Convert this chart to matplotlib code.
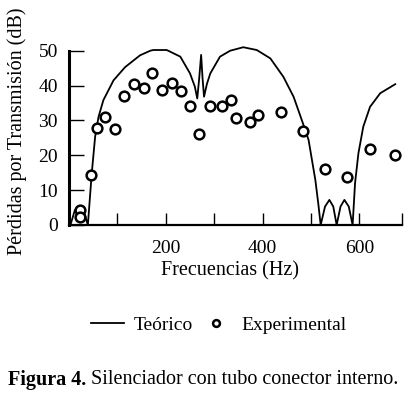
import matplotlib
matplotlib.use("Agg")
import matplotlib.pyplot as plt
from matplotlib.legend_handler import HandlerLine2D

plt.rcParams['font.family'] = ['Liberation Serif', 'DejaVu Serif']

# curva teórica
teo_f = [3, 12, 21, 30, 39, 47, 54, 61, 71, 92, 116, 147, 168, 174, 202, 230,
         250, 260, 265, 269, 273, 276, 279, 285, 292, 312, 333, 360, 388, 416,
         443, 464, 481, 495, 509, 515, 520, 529, 538, 546, 553, 561, 569, 578,
         586, 591, 598, 608, 622, 643, 674]
teo_tl = [0, 4.2, 5.5, 4.2, 0, 14.8, 25.3, 31.0, 35.8, 41.5, 45.3, 48.7, 50.0,
          50.2, 50.2, 48.3, 43.5, 39.7, 36.3, 42, 48.8, 42, 36.8, 40.5, 43.5,
          48.3, 50.0, 51.0, 50.2, 47.8, 42.5, 36.8, 30.1, 24.4, 12.9, 6.2, 0,
          5.3, 7.2, 5.3, 0, 5.3, 7.2, 5.3, 0, 12.0, 20.6, 28.2, 33.9, 37.8, 40.4]

# puntos experimentales
exp_f = [22, 22, 46, 58, 74, 96, 113, 134, 155, 172, 192, 212, 232, 251, 269,
         291, 317, 334, 346, 375, 391, 438, 484, 529, 574, 621, 674]
exp_tl = [4.3, 2.4, 14.3, 27.9, 31.0, 27.4, 37.0, 40.4, 39.2, 43.5, 38.7, 40.6,
          38.4, 34.2, 26.0, 34.1, 34.1, 35.8, 30.6, 29.6, 31.7, 32.5, 27.0,
          16.2, 13.8, 21.7, 20.0]

xticks = [100, 200, 300, 400, 500, 600, 688]
xlabels = ['', '200', '', '400', '', '600', '']
yticks = [0, 10, 20, 30, 40, 50]


class MarkerRight(HandlerLine2D):
    # pone el marcador pegado al texto en la leyenda
    def get_xdata(self, legend, xdescent, ydescent, width, height, fontsize):
        xd, xm = super().get_xdata(legend, xdescent, ydescent, width, height, fontsize)
        return xd, [-xdescent + 0.95 * width]


fig = plt.figure(figsize=(4.07, 3.95), dpi=100)
ax = fig.add_axes([0.1695, 0.4304, 0.8182, 0.4412])

teo, = ax.plot(teo_f, teo_tl, color='black', lw=1.3, clip_on=False, label='Teórico')
exp, = ax.plot(exp_f, exp_tl, 'o', ms=7, mfc='white', mec='black', mew=1.8,
               clip_on=False, zorder=3, label='Experimental')

ax.set_xlim(0, 688)
ax.set_ylim(0, 50)
ax.set_xticks(xticks)
ax.set_xticklabels(xlabels)
ax.set_yticks(yticks)

for s in ['top', 'right']:
    ax.spines[s].set_visible(False)
ax.spines['left'].set_linewidth(2.2)
ax.spines['bottom'].set_linewidth(1.6)
ax.tick_params(axis='y', direction='in', length=11, width=1.0, pad=8, labelsize=14)
ax.tick_params(axis='x', direction='in', length=9, width=1.0, pad=11, labelsize=14)

ax.set_xlabel('Frecuencias (Hz)', fontsize=14.5)
ax.xaxis.set_label_coords(0.483, -0.21)
ax.set_ylabel('Pérdidas por Transmisión (dB)', fontsize=14.5)
ax.yaxis.set_label_coords(-0.125, 0.54)

fig.legend(handles=[teo, exp], loc='center', bbox_to_anchor=(219 / 407, 1 - 325 / 395),
           ncol=2, frameon=False, fontsize=14, handlelength=1.7, columnspacing=0.3,
           handletextpad=0.5, markerscale=0.7,
           handler_map={exp: MarkerRight(numpoints=1)})

t1 = fig.text(8 / 407, 1 - 380 / 395, 'Figura 4.', fontsize=14.5,
              fontweight='bold', va='center', ha='left')
ax.annotate(' Silenciador con tubo conector interno.', xy=(1, 0.5),
            xycoords=t1, va='center', ha='left', fontsize=14.5,
            annotation_clip=False)

fig.savefig('out.png', dpi=100)
